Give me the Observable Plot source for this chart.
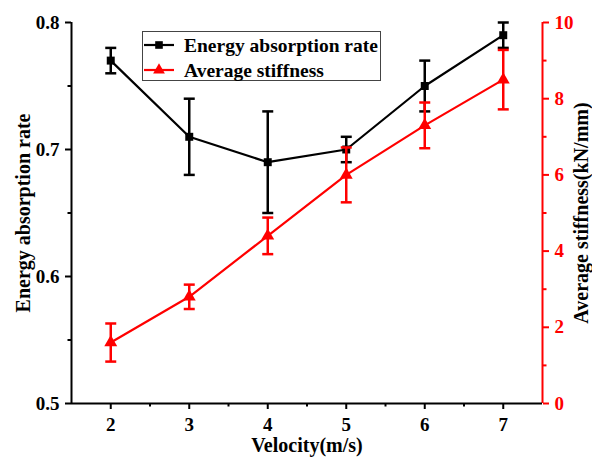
<!DOCTYPE html>
<html>
<head>
<meta charset="utf-8">
<script src="https://cdn.jsdelivr.net/npm/d3@7"></script>
<script src="https://cdn.jsdelivr.net/npm/@observablehq/plot@0.6"></script>
<style>
  html, body { margin: 0; padding: 0; background: #fff; }
  #wrap { position: relative; width: 592px; height: 458px; font-family: "Liberation Serif", "Times New Roman", serif; }
  #wrap svg text { font-family: "Liberation Serif", "Times New Roman", serif; }
  #legend { position: absolute; left: 142px; top: 31px; }
</style>
</head>
<body>
<div id="wrap"></div>
<script>
// Data
const velocity = [2, 3, 4, 5, 6, 7];
const energy = [0.77, 0.71, 0.69, 0.70, 0.75, 0.79];
const energyErr = [0.01, 0.03, 0.04, 0.01, 0.02, 0.01];
const stiffness = [1.6, 2.8, 4.4, 6.0, 7.3, 8.5];
const stiffnessErr = [0.5, 0.32, 0.48, 0.72, 0.6, 0.78];
const xTicks = [2, 3, 4, 5, 6, 7];
const leftTicks = [0.5, 0.6, 0.7, 0.8];
const rightTicks = [0, 2, 4, 6, 8, 10];
const seriesNames = ["Energy absorption rate", "Average stiffness"];

// right axis (0..10) mapped onto left scale (0.5..0.8)
const leftMin = 0.5, leftMax = 0.8, rightMin = 0, rightMax = 10;
const toLeft = s => leftMin + (s - rightMin) * (leftMax - leftMin) / (rightMax - rightMin);

const E = velocity.map((v, i) => ({x: v, y: energy[i], lo: energy[i] - energyErr[i], hi: energy[i] + energyErr[i]}));
const S = velocity.map((v, i) => ({x: v, y: toLeft(stiffness[i]), lo: toLeft(stiffness[i] - stiffnessErr[i]), hi: toLeft(stiffness[i] + stiffnessErr[i])}));

const capSymbol = { draw(ctx) { ctx.moveTo(-5.5, 0); ctx.lineTo(5.5, 0); } };
const FF = "Liberation Serif";
const font = {fontFamily: FF, fontWeight: "bold", fontSize: 19};
const titleFont = {fontFamily: FF, fontWeight: "bold", fontSize: 20};

const minorLeft = [0.55, 0.65, 0.75];
const minorX = [2.5, 3.5, 4.5, 5.5, 6.5];
const minorRight = [1, 3, 5, 7, 9];

const chart = Plot.plot({
  width: 592,
  height: 458,
  marginLeft: 71,
  marginRight: 50,
  marginTop: 22,
  marginBottom: 55,
  style: {fontFamily: FF, fontWeight: "bold", fontSize: "19px", background: "white", overflow: "visible"},
  x: {domain: [1.5, 7.5]},
  y: {domain: [leftMin, leftMax]},
  marks: [
    // axes
    Plot.axisY({ticks: leftTicks, tickSize: 6, tickPadding: 6, tickFormat: d3.format(".1f"), label: null, strokeWidth: 2, ...font, fill: "black"}),
    Plot.axisY({ticks: minorLeft, tickSize: 3.5, text: null, label: null, strokeWidth: 2}),
    Plot.axisX({ticks: xTicks, tickSize: 6, tickPadding: 8, tickFormat: d3.format("d"), label: null, strokeWidth: 2, ...font, fill: "black"}),
    Plot.axisX({ticks: minorX, tickSize: 3.5, text: null, label: null, strokeWidth: 2}),
    Plot.axisY({anchor: "right", ticks: rightTicks.map(toLeft), tickSize: 6, tickPadding: 6,
      tickFormat: d => String(Math.round((d - leftMin) * (rightMax - rightMin) / (leftMax - leftMin) + rightMin)),
      label: null, stroke: "#ff0000", fill: "#ff0000", strokeWidth: 2, ...font}),
    Plot.axisY({anchor: "right", ticks: minorRight.map(toLeft), tickSize: 3.5, text: null, label: null, stroke: "#ff0000", strokeWidth: 2}),
    Plot.ruleX([1.5], {stroke: "black", strokeWidth: 2}),
    Plot.ruleX([7.5], {stroke: "#ff0000", strokeWidth: 2}),
    Plot.ruleY([leftMin], {stroke: "black", strokeWidth: 2}),
    // titles
    Plot.text(["Energy absorption rate"], {frameAnchor: "left", textAnchor: "middle", lineAnchor: "middle", dx: -48, rotate: -90, ...titleFont, fill: "black"}),
    Plot.text(["Average stiffness(kN/mm)"], {frameAnchor: "right", textAnchor: "middle", lineAnchor: "middle", dx: 39, rotate: -90, ...titleFont, fill: "black"}),
    Plot.text(["Velocity(m/s)"], {frameAnchor: "bottom", textAnchor: "middle", lineAnchor: "middle", dy: 42, ...titleFont, fill: "black"}),
    // energy series
    Plot.line(E, {x: "x", y: "y", stroke: "black", strokeWidth: 2.2}),
    Plot.ruleX(E, {x: "x", y1: "lo", y2: "hi", stroke: "black", strokeWidth: 2.5}),
    Plot.dot(E, {x: "x", y: "lo", symbol: capSymbol, stroke: "black", strokeWidth: 2.5, fill: "none"}),
    Plot.dot(E, {x: "x", y: "hi", symbol: capSymbol, stroke: "black", strokeWidth: 2.5, fill: "none"}),
    Plot.dot(E, {x: "x", y: "y", symbol: "square", r: 4.5, fill: "black", stroke: "none"}),
    // stiffness series
    Plot.line(S, {x: "x", y: "y", stroke: "#ff0000", strokeWidth: 2.2}),
    Plot.ruleX(S, {x: "x", y1: "lo", y2: "hi", stroke: "#ff0000", strokeWidth: 2.5}),
    Plot.dot(S, {x: "x", y: "lo", symbol: capSymbol, stroke: "#ff0000", strokeWidth: 2.5, fill: "none"}),
    Plot.dot(S, {x: "x", y: "hi", symbol: capSymbol, stroke: "#ff0000", strokeWidth: 2.5, fill: "none"}),
    Plot.dot(S, {x: "x", y: "y", symbol: "triangle", r: 4.8, fill: "#ff0000", stroke: "none"})
  ]
});

const wrap = document.getElementById("wrap");
wrap.appendChild(chart);

// Legend (inside the plot area, top-left)
const lg = d3.create("svg").attr("id", "legend").attr("width", 240).attr("height", 51);
lg.append("rect").attr("x", 0.5).attr("y", 0.5).attr("width", 238).attr("height", 49)
  .attr("fill", "white").attr("stroke", "#444").attr("stroke-width", 1);
const rows = [
  {name: seriesNames[0], color: "black", sym: d3.symbolSquare, size: 58},
  {name: seriesNames[1], color: "#ff0000", sym: d3.symbolTriangle, size: 60}
];
rows.forEach((r, i) => {
  const cy = 14 + i * 25;
  lg.append("line").attr("x1", 2).attr("x2", 32).attr("y1", cy).attr("y2", cy)
    .attr("stroke", r.color).attr("stroke-width", 2.2);
  lg.append("path").attr("d", d3.symbol(r.sym, r.size)()).attr("transform", `translate(17,${cy})`).attr("fill", r.color);
  lg.append("text").attr("x", 42).attr("y", cy + 7).text(r.name)
    .attr("font-family", FF).attr("font-weight", "bold").attr("font-size", 19.5).attr("fill", "black");
});
wrap.appendChild(lg.node());
</script>
</body>
</html>
